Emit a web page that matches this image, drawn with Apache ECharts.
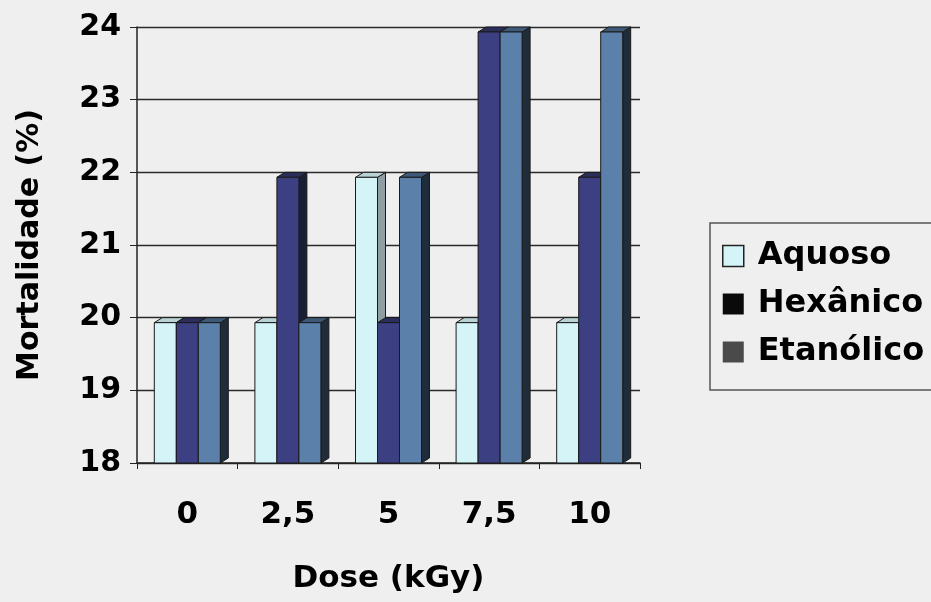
<!DOCTYPE html>
<html>
<head>
<meta charset="utf-8">
<script src="https://cdn.jsdelivr.net/npm/echarts@6/dist/echarts.min.js"></script>
<style>html,body{margin:0;padding:0;background:#efefef;}#c{width:931px;height:602px;}</style>
</head>
<body>
<div id="c"></div>
<script>
var categories = ['0', '2,5', '5', '7,5', '10'];
var aquoso = [20, 20, 22, 20, 20];
var hexanico = [20, 22, 20, 24, 22];
var etanolico = [20, 20, 22, 24, 24];
var yTicks = [18, 19, 20, 21, 22, 23, 24];
var seriesNames = ['Aquoso', 'Hexânico', 'Etanólico'];

var YMIN = 18, YMAX = 24;
var FONT = 'DejaVu Sans';

var styles = [
  {front: '#d4f4f8', top: '#b9d2d6', side: '#8e9ea2'},
  {front: '#3c3f82', top: '#2b2d5a', side: '#1a1f36'},
  {front: '#5b80aa', top: '#3f5a78', side: '#1f2d3a'}
];

function makeRender(idx) {
  return function (params, api) {
    var cat = api.value(0), v = api.value(1);
    var p = api.coord([cat, v]);
    var base = api.coord([cat, YMIN]);
    var bw = 22, dx = 8, dy = 5;
    var x0 = p[0] - 33 + idx * bw;
    var yF = p[1] + dy;
    var yB = base[1];
    var st = styles[idx];
    var stroke = {stroke: '#1a1a1a', lineWidth: 1};
    return {
      type: 'group',
      children: [
        {type: 'polygon', shape: {points: [[x0 + bw, yF], [x0 + bw + dx, yF - dy], [x0 + bw + dx, yB - dy], [x0 + bw, yB]]},
          style: Object.assign({fill: st.side}, stroke)},
        {type: 'polygon', shape: {points: [[x0, yF], [x0 + dx, yF - dy], [x0 + bw + dx, yF - dy], [x0 + bw, yF]]},
          style: Object.assign({fill: st.top}, stroke)},
        {type: 'rect', shape: {x: x0, y: yF, width: bw, height: yB - yF},
          style: Object.assign({fill: st.front}, stroke)}
      ]
    };
  };
}

var allData = [aquoso, hexanico, etanolico];
var series = allData.map(function (arr, idx) {
  return {
    name: seriesNames[idx],
    type: 'custom',
    renderItem: makeRender(idx),
    encode: {x: 0, y: 1},
    itemStyle: {color: styles[idx].front},
    data: arr.map(function (v, i) { return [i, v]; })
  };
});

var chart = echarts.init(document.getElementById('c'));
chart.setOption({
  backgroundColor: '#efefef',
  animation: false,
  grid: {left: 137, right: 291, top: 27, bottom: 139},
  legend: {
    orient: 'vertical',
    left: 710,
    top: 223,
    padding: [15, 40, 20, 12],
    borderColor: '#555',
    borderWidth: 1.5,
    itemWidth: 21,
    itemHeight: 21,
    itemGap: 12,
    textStyle: {fontFamily: FONT, fontWeight: 'bold', fontSize: 32, color: '#000', lineHeight: 36, padding: [0, 0, 0, 9]},
    data: [
      {name: 'Aquoso', icon: 'rect', itemStyle: {color: '#d4f4f8', borderColor: '#222', borderWidth: 1.5}},
      {name: 'Hexânico', icon: 'rect', itemStyle: {color: '#0a0a0a'}},
      {name: 'Etanólico', icon: 'rect', itemStyle: {color: '#4a4a4a'}}
    ]
  },
  xAxis: {
    type: 'category',
    data: categories,
    boundaryGap: true,
    name: 'Dose (kGy)',
    nameLocation: 'middle',
    nameGap: 100,
    nameTextStyle: {fontFamily: FONT, fontWeight: 'bold', fontSize: 31, color: '#000'},
    axisLine: {lineStyle: {color: '#222', width: 1.5}},
    axisTick: {show: true, length: 6, lineStyle: {color: '#222'}},
    axisLabel: {fontFamily: FONT, fontWeight: 'bold', fontSize: 31, color: '#000', margin: 36},
    splitLine: {show: false}
  },
  yAxis: {
    type: 'value',
    min: YMIN,
    max: YMAX,
    interval: 1,
    name: 'Mortalidade (%)',
    nameLocation: 'middle',
    nameRotate: 90,
    nameGap: 92,
    nameTextStyle: {fontFamily: FONT, fontWeight: 'bold', fontSize: 30, color: '#000'},
    axisLine: {show: true, lineStyle: {color: '#222', width: 1.5}},
    axisTick: {show: true, length: 7, lineStyle: {color: '#222'}},
    axisLabel: {fontFamily: FONT, fontWeight: 'bold', fontSize: 30, color: '#000', margin: 16,
      formatter: function (v) { return yTicks.indexOf(v) >= 0 ? String(v) : ''; }},
    splitLine: {show: true, lineStyle: {color: '#2a2a2a', width: 1.3}}
  },
  series: series
});
</script>
</body>
</html>
